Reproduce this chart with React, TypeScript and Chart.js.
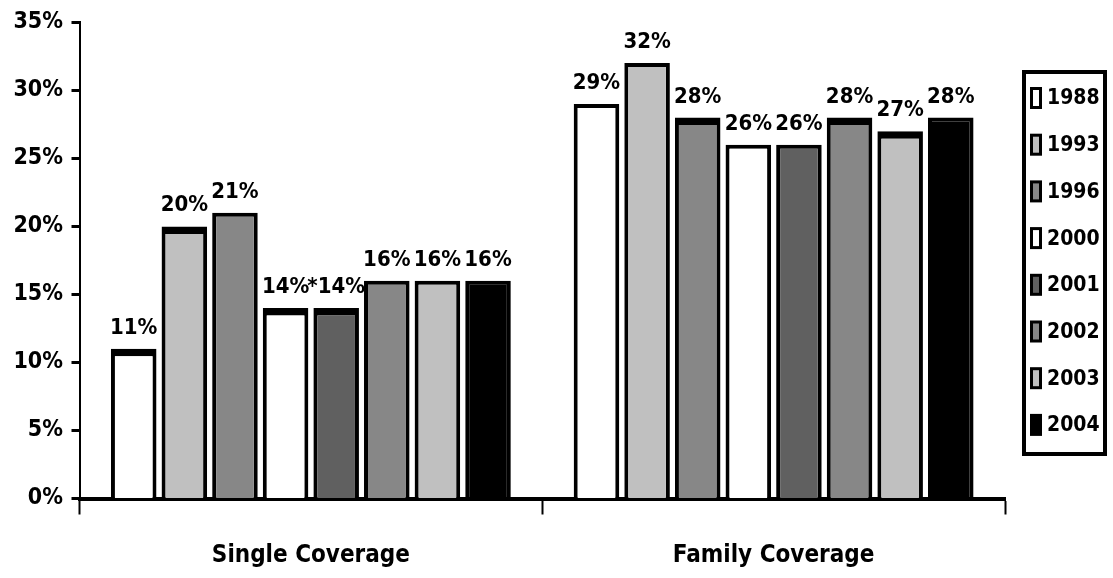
import { useEffect, useRef } from "react";
import { Chart, registerables } from "chart.js";

Chart.register(...registerables);

// Share of workers with the given premium contribution, by year
const categories = ["Single Coverage", "Family Coverage"];
const years = ["1988", "1993", "1996", "2000", "2001", "2002", "2003", "2004"];
const share1988 = [11, 29];
const share1993 = [20, 32];
const share1996 = [21, 28];
const share2000 = [14, 26];
const share2001 = [14, 26];
const share2002 = [16, 28];
const share2003 = [16, 27];
const share2004 = [16, 28];
const yTickValues = [0, 5, 10, 15, 20, 25, 30, 35];
// "*" marks a statistically significant change from the prior year
const note2001 = ["*", ""];

const seriesValues = [share1988, share1993, share1996, share2000, share2001, share2002, share2003, share2004];
const seriesNotes = [null, null, null, null, note2001, null, null, null];

// Bar styling
const fills = ["#ffffff", "#c0c0c0", "#878787", "#ffffff", "#606060", "#878787", "#c0c0c0", "#000000"];
const heavyTop = [
  [true, false],
  [true, false],
  [false, true],
  [true, false],
  [true, false],
  [false, true],
  [false, true],
  [false, false],
];

const FONT = "'DejaVu Sans Condensed', 'DejaVu Sans', sans-serif";

const valueLabels = {
  id: "valueLabels",
  afterDatasetsDraw(chart: any) {
    const ctx = chart.ctx;
    ctx.save();
    ctx.font = `bold 22px ${FONT}`;
    ctx.fillStyle = "#000";
    ctx.textAlign = "center";
    ctx.textBaseline = "alphabetic";
    chart.data.datasets.forEach((ds: any, di: number) => {
      const meta = chart.getDatasetMeta(di);
      meta.data.forEach((bar: any, i: number) => {
        const note = seriesNotes[di] ? seriesNotes[di]![i] : "";
        ctx.fillText(`${note}${ds.data[i]}%`, bar.x, bar.y - 15);
      });
    });
    ctx.restore();
  },
};

const boxedLegend = {
  id: "boxedLegend",
  afterDraw(chart: any) {
    const ctx = chart.ctx;
    const left = 1024;
    const right = 1105;
    const top = 72;
    const bottom = 454;
    ctx.save();
    ctx.lineWidth = 4;
    ctx.strokeStyle = "#000";
    ctx.strokeRect(left, top, right - left, bottom - top);
    ctx.font = `bold 21px ${FONT}`;
    ctx.textAlign = "left";
    ctx.textBaseline = "middle";
    chart.data.datasets.forEach((ds: any, i: number) => {
      const cy = 98 + i * 46.7;
      ctx.fillStyle = "#000";
      ctx.fillRect(1030, cy - 11, 12, 22);
      ctx.fillStyle = ds.backgroundColor;
      ctx.fillRect(1033, cy - 8, 6, 16);
      ctx.fillStyle = "#000";
      ctx.fillText(ds.label, 1047, cy + 1);
    });
    ctx.restore();
  },
};

export default function App() {
  const canvasRef = useRef<HTMLCanvasElement | null>(null);

  useEffect(() => {
    if (!canvasRef.current) return;
    const chart = new Chart(canvasRef.current, {
      type: "bar",
      data: {
        labels: categories,
        datasets: years.map((year, di) => ({
          label: year,
          data: seriesValues[di],
          backgroundColor: fills[di],
          borderColor: "#000",
          borderSkipped: "bottom",
          borderWidth: (ctx: any) => ({
            top: heavyTop[di][ctx.dataIndex] ? 7.5 : 4,
            left: 4,
            right: 4,
            bottom: 0,
          }),
          categoryPercentage: 0.875,
          barPercentage: 0.9,
        })),
      },
      options: {
        animation: false,
        responsive: true,
        maintainAspectRatio: false,
        events: [],
        layout: {
          autoPadding: false,
          padding: { top: 20.5, right: 108, bottom: 0, left: 0 },
        },
        plugins: {
          legend: { display: false },
          tooltip: { enabled: false },
          title: { display: false },
        },
        scales: {
          x: {
            z: 1,
            afterFit: (scale: any) => {
              scale.height = 79.5;
            },
            grid: {
              offset: true,
              drawOnChartArea: false,
              drawTicks: true,
              tickLength: 16,
              tickWidth: 2,
              tickColor: "#000",
            },
            border: { display: true, color: "#000", width: 4 },
            ticks: {
              color: "#000",
              padding: 27,
              font: { family: FONT, size: 24, weight: "bold" },
            },
          },
          y: {
            min: 0,
            max: 35,
            afterFit: (scale: any) => {
              scale.width = 79.5;
            },
            afterBuildTicks: (scale: any) => {
              scale.ticks = yTickValues.map((v) => ({ value: v }));
            },
            grid: {
              drawOnChartArea: false,
              drawTicks: true,
              tickLength: 8,
              tickWidth: 3,
              tickColor: "#000",
            },
            border: { display: true, color: "#000", width: 2 },
            ticks: {
              color: "#000",
              padding: 8.5,
              font: { family: FONT, size: 23, weight: "bold" },
              callback: (v: any) => `${v}%`,
            },
          },
        },
      },
      plugins: [valueLabels, boxedLegend],
    });
    return () => chart.destroy();
  }, []);

  return (
    <div style={{ position: "absolute", left: 0, top: 0, width: 1113, height: 578 }}>
      <canvas ref={canvasRef} />
    </div>
  );
}
